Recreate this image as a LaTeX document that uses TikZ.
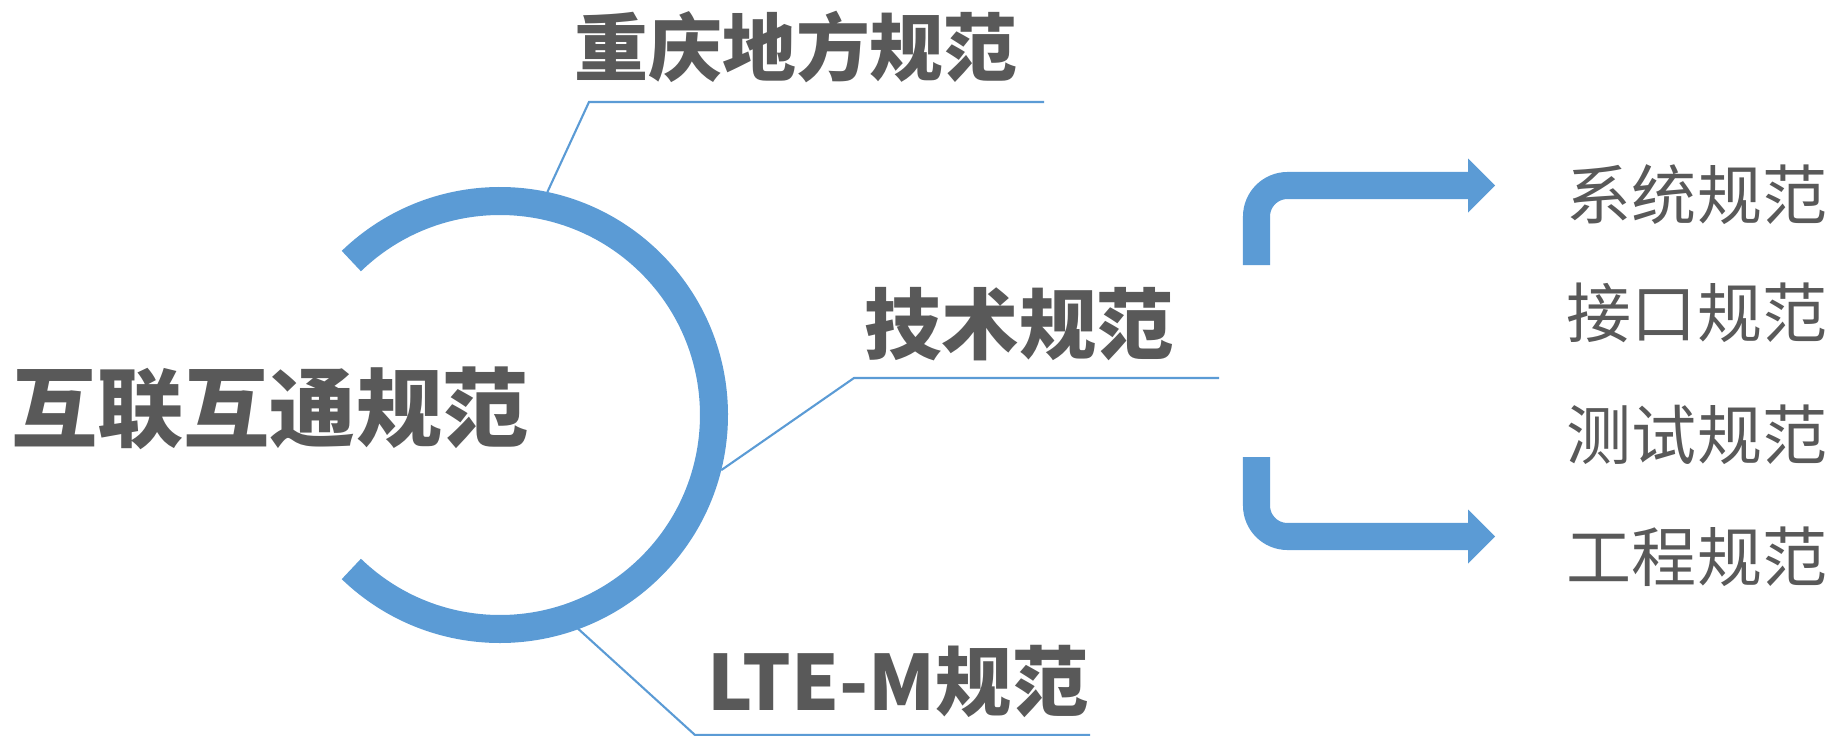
\documentclass[tikz,border=0pt]{standalone}
\usepackage{fontspec}
\newfontfamily\cjk{Noto Sans CJK SC}
\definecolor{specblue}{HTML}{5B9BD5}
\definecolor{specgray}{HTML}{595959}
\tikzset{
  ring/.style={draw=specblue, line width=0.28cm},
  leader/.style={draw=specblue, line width=0.6pt},
  bigtitle/.style={text=specgray, inner sep=0pt, font=\cjk\bfseries\fontsize{24.5}{24.5}\selectfont},
  branch/.style={text=specgray, inner sep=0pt, font=\cjk\bfseries\fontsize{#1}{#1}\selectfont},
  branch/.default=21,
  itemlabel/.style={text=specgray, inner sep=0pt, font=\cjk\fontsize{18.5}{18.5}\selectfont},
  bracket/.style={draw=specblue, line width=0.27cm, rounded corners=0.31cm},
  tiphead/.style={fill=specblue}
}

\begin{document}
\begin{tikzpicture}[x=0.01cm, y=-0.01cm]
\useasboundingbox (0,0) rectangle (1832,736);
% the open ring
\coordinate (hub) at (500,415);
\draw[ring] ([shift={(-134:214)}]hub) arc[start angle=-134, end angle=134, radius=214];
\node[bigtitle] (hubtitle) at (270,408) {互联互通规范};

% three branches
\node[branch] (local) at (796,47) {重庆地方规范};
\node[branch=22] (tech) at (1019,324) {技术规范};
\node[branch=21.7] (ltem) at (898,681) {LTE-M规范};
\coordinate (localfoot) at ([shift={(-78:228)}]hub);
\coordinate (localknee) at (589,102);
\coordinate (localend) at (1044,102);
\coordinate (techfoot) at ([shift={(14:228)}]hub);
\coordinate (techknee) at (854,378);
\coordinate (techend) at (1219,378);
\coordinate (ltemfoot) at ([shift={(70:227)}]hub);
\coordinate (ltemknee) at (695,735);
\coordinate (ltemend) at (1090,735);
\draw[leader] (localfoot) -- (localknee) -- (localend);
\draw[leader] (techfoot) -- (techknee) -- (techend);
\draw[leader] (ltemfoot) -- (ltemknee) -- (ltemend);

% right side
\node[itemlabel] (sys) at (1697,195) {系统规范};
\node[itemlabel] (iface) at (1697,313) {接口规范};
\node[itemlabel] (test) at (1697,435) {测试规范};
\node[itemlabel] (eng) at (1697,557) {工程规范};
\coordinate (uptail) at (1256.5,265);
\coordinate (uptip) at (1469,185.5);
\coordinate (lowtail) at (1256.5,457);
\coordinate (lowtip) at (1469,536.5);
\draw[bracket] (uptail) |- (uptip);
\draw[bracket] (lowtail) |- (lowtip);
\fill[tiphead] (uptip) ++(-1,-27) -- ++(27,27) -- ++(-27,27) -- cycle;
\fill[tiphead] (lowtip) ++(-1,-27) -- ++(27,27) -- ++(-27,27) -- cycle;
\end{tikzpicture}
\end{document}
